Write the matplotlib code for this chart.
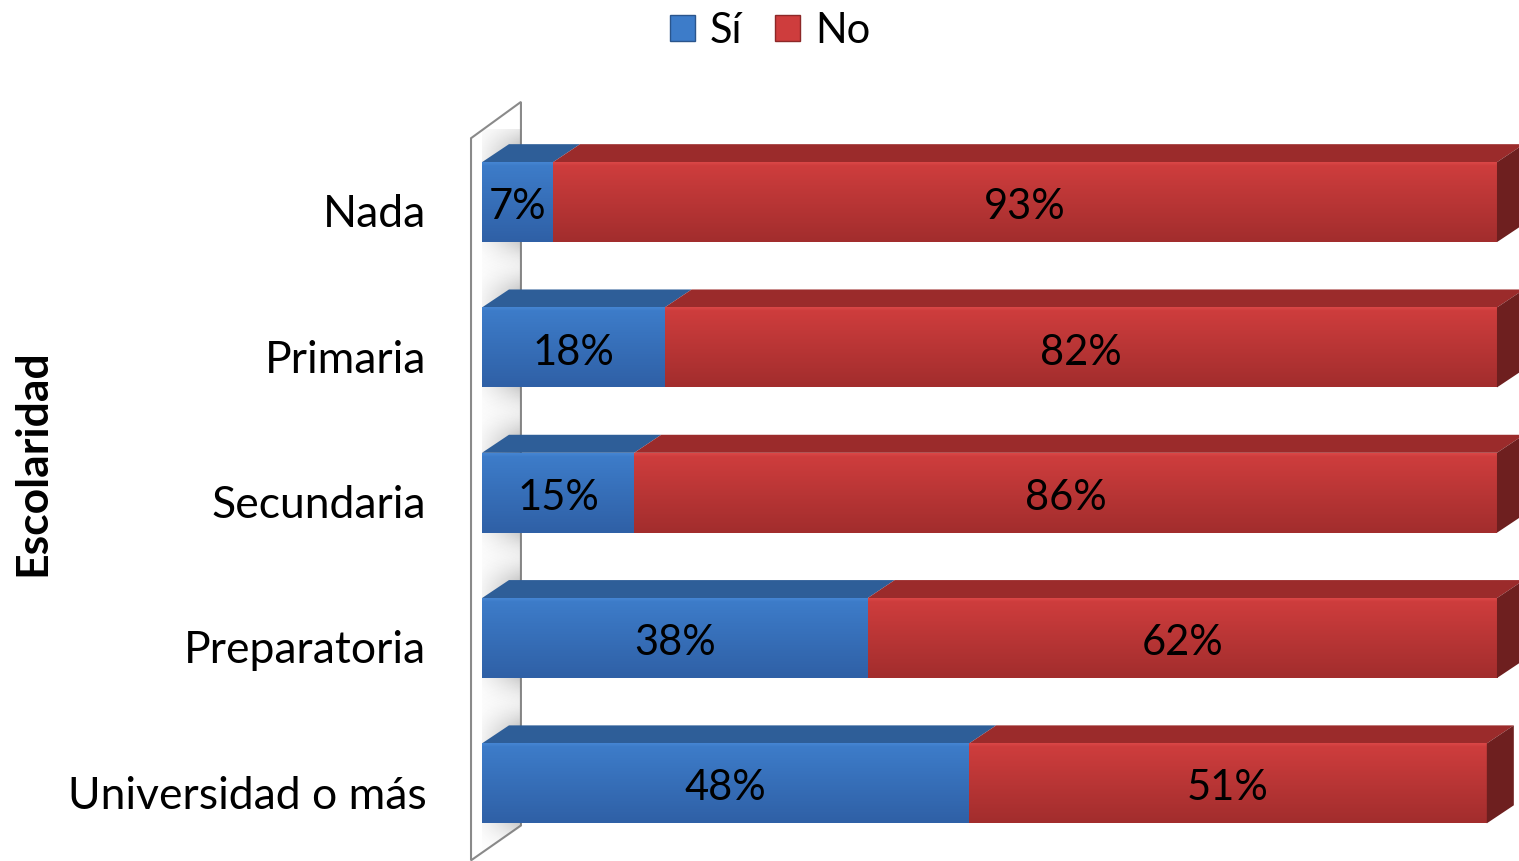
"""
Escolaridad vs respuesta (Sí / No) - barras apiladas horizontales con efecto 3D
"""

import numpy as np
import matplotlib.pyplot as plt
from matplotlib.patches import Polygon, Patch
from matplotlib.colors import LinearSegmentedColormap

# datos
categorias = ["Nada", "Primaria", "Secundaria", "Preparatoria", "Universidad o más"]
si = [7, 18, 15, 38, 48]
no = [93, 82, 86, 62, 51]
etiquetas_si = ["7%", "18%", "15%", "38%", "48%"]
etiquetas_no = ["93%", "82%", "86%", "62%", "51%"]
series = ["Sí", "No"]

plt.rcParams['font.family'] = ['Lato', 'DejaVu Sans']

# colores: frente (arriba, abajo), cara superior, cara lateral
COLORES = {
    "Sí": {"front": ["#4585D3", "#3D7CC9", "#2F60A6"], "top": "#2E5E98", "side": "#234A7A", "edge": "#2A558C"},
    "No": {"front": ["#DA4747", "#CE3D3D", "#A22D2D"], "top": "#9B2B2B", "side": "#6E1F1F", "edge": "#8C2828"},
}

XMAX = 100
BAR_H = 0.55
DX, DY = 2.66, 0.124   # profundidad del efecto 3D (unidades de datos)

fig = plt.figure(figsize=(15.19, 8.61), dpi=100)
ax = fig.add_axes([0.3173, 0.0058, 0.6682, 0.8438])

y = np.arange(len(categorias))
grad = np.linspace(0, 1, 100).reshape(-1, 1)

# pared lateral izquierda
wall = Polygon([(-1.08, -0.44), (3.84, -0.69), (3.84, 4.29), (-1.08, 4.53)],
               closed=True, facecolor="white", edgecolor="#8a8a8a", lw=1.5,
               zorder=0.5, clip_on=False)
ax.add_patch(wall)

# sombras de las barras sobre la pared
yy, xx = np.mgrid[-1:1:120j, 0:1:60j]
for yc in y:
    alpha = 0.6 * np.exp(-(yy / 0.6) ** 4) * xx ** 1.2
    rgba = np.zeros(yy.shape + (4,))
    rgba[..., :3] = 0.45
    rgba[..., 3] = alpha
    im = ax.imshow(rgba, extent=[-1.08, 3.84, yc + 0.62, yc - 0.62 - DY],
                   aspect='auto', zorder=0.6, interpolation='bilinear')
    im.set_clip_path(wall)

izq = np.zeros(len(categorias))
for nombre, valores, etiquetas in [("Sí", si, etiquetas_si), ("No", no, etiquetas_no)]:
    c = COLORES[nombre]
    cmap = LinearSegmentedColormap.from_list(nombre, [(0, c["front"][0]), (0.04, c["front"][1]), (1, c["front"][2])])
    bars = ax.barh(y, valores, left=izq, height=BAR_H, color=c["front"][1],
                   edgecolor="none", zorder=3)
    for bar, lab in zip(bars, etiquetas):
        x0 = bar.get_x()
        x1 = min(x0 + bar.get_width(), XMAX)
        y0 = bar.get_y()
        y1 = y0 + bar.get_height()
        # degradado del frente
        im = ax.imshow(grad, extent=[x0, x1, y1, y0], aspect='auto', cmap=cmap,
                       zorder=3.1, interpolation='bilinear')
        im.set_clip_path(bar)
        # cara superior
        ax.add_patch(Polygon([(x0, y0), (x1, y0), (x1 + DX, y0 - DY), (x0 + DX, y0 - DY)],
                             closed=True, facecolor=c["top"], edgecolor="none",
                             zorder=2, clip_on=False))
        # cara lateral (solo al final)
        if nombre == "No":
            ax.add_patch(Polygon([(x1, y0), (x1 + DX, y0 - DY), (x1 + DX, y1 - DY), (x1, y1)],
                                 closed=True, facecolor=c["side"], edgecolor="none",
                                 zorder=3.2, clip_on=False))
        ax.text((x0 + x1) / 2, (y0 + y1) / 2 + 0.035, lab, ha='center', va='center',
                fontsize=30, color='black', zorder=5)
    izq = izq + np.array(valores)

ax.set_xlim(0, XMAX)
ax.set_ylim(len(categorias) - 0.5, -0.5)

# etiquetas un poco por debajo del centro de la barra, como en el original
ax.set_yticks(y + 0.06)
ax.set_yticklabels(categorias, fontsize=32)
ax.tick_params(axis='y', length=0, pad=40)
ax.set_xticks([])
for s in ax.spines.values():
    s.set_visible(False)
ax.patch.set_visible(False)

ax.set_ylabel("Escolaridad", fontsize=32, fontweight='bold')
ax.yaxis.set_label_coords(-0.4236, 0.5416)

handles = [Patch(facecolor=COLORES[s]["front"][1], edgecolor=COLORES[s]["edge"]) for s in series]
fig.legend(handles, series, loc='upper center', bbox_to_anchor=(0.507, 1.03), ncol=2,
           frameon=False, fontsize=30, handlelength=0.6, handleheight=0.6,
           handletextpad=0.35, columnspacing=0.8)

fig.savefig("out.png", dpi=100)
